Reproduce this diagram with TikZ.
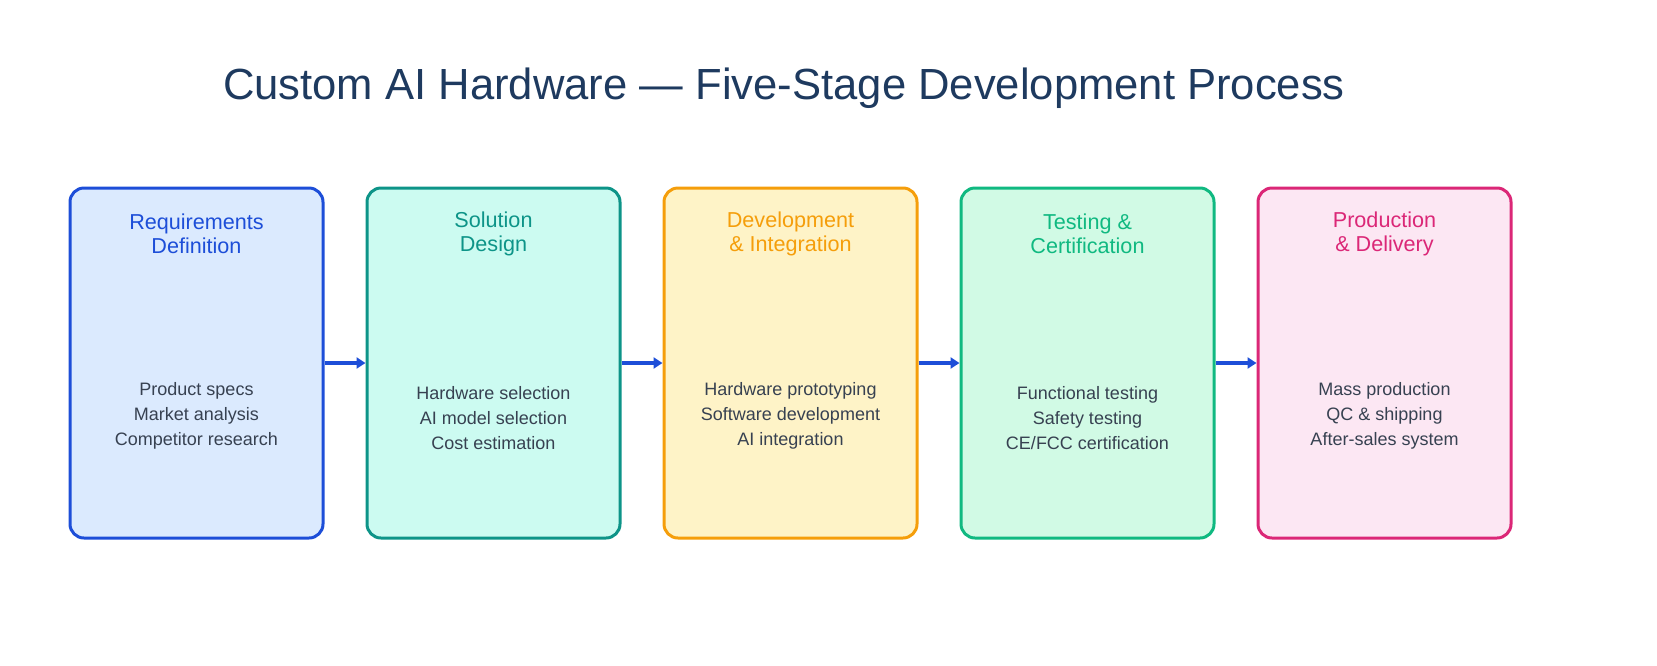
\documentclass[tikz,border=0pt]{standalone}
\usepackage{fontspec}
\setmainfont{Liberation Sans}
\usetikzlibrary{arrows.meta}
\definecolor{navy}{HTML}{1E3A5F}
\definecolor{bodytx}{HTML}{374151}
\definecolor{cA}{HTML}{1D4ED8}\definecolor{fA}{HTML}{DBEAFE}
\definecolor{cB}{HTML}{0D9488}\definecolor{fB}{HTML}{CCFBF1}
\definecolor{cC}{HTML}{F59E0B}\definecolor{fC}{HTML}{FEF3C7}
\definecolor{cD}{HTML}{10B981}\definecolor{fD}{HTML}{D1FAE5}
\definecolor{cE}{HTML}{DB2777}\definecolor{fE}{HTML}{FCE7F3}
\begin{document}
\begin{tikzpicture}[x=1pt,y=-1pt,
  stage/.style={draw=#1,line width=3pt,rounded corners=14pt,minimum width=253pt,minimum height=350pt,inner sep=0pt},
  head/.style={text=#1,font=\fontsize{21.6}{24.5}\selectfont,align=center},
  body/.style={text=bodytx,font=\fontsize{18}{25}\selectfont,align=center},
  arr/.style={draw=cA,line width=3.5pt,-{Triangle[length=9pt,width=11pt]}}]
\useasboundingbox (0,0) rectangle (1657,665);
\node[text=navy,font=\fontsize{43.6}{48}\selectfont] (title) at (784,88) {Custom AI Hardware — Five-Stage Development Process};
\foreach \n/\x/\c/\f/\h/\b/\by in {
 A/196.5/cA/fA/{Requirements\\Definition}/{Product specs\\Market analysis\\Competitor research}/416,
 B/493.5/cB/fB/{Solution\\Design}/{Hardware selection\\AI model selection\\Cost estimation}/418,
 C/790.5/cC/fC/{Development\\\& Integration}/{Hardware prototyping\\Software development\\AI integration}/416,
 D/1087.5/cD/fD/{Testing \&\\Certification}/{Functional testing\\Safety testing\\CE/FCC certification}/418,
 E/1384.5/cE/fE/{Production\\\& Delivery}/{Mass production\\QC \& shipping\\After-sales system}/416}{
 \node[stage=\c,fill=\f] (box\n) at (\x,363) {};
 \node[head=\c] (h\n) at (\x,234) {\h};
 \node[body] (b\n) at (\x,\by) {\b};
}
\draw[arr] (boxA.east) -- (boxB.west);
\draw[arr] (boxB.east) -- (boxC.west);
\draw[arr] (boxC.east) -- (boxD.west);
\draw[arr] (boxD.east) -- (boxE.west);
\end{tikzpicture}
\end{document}
